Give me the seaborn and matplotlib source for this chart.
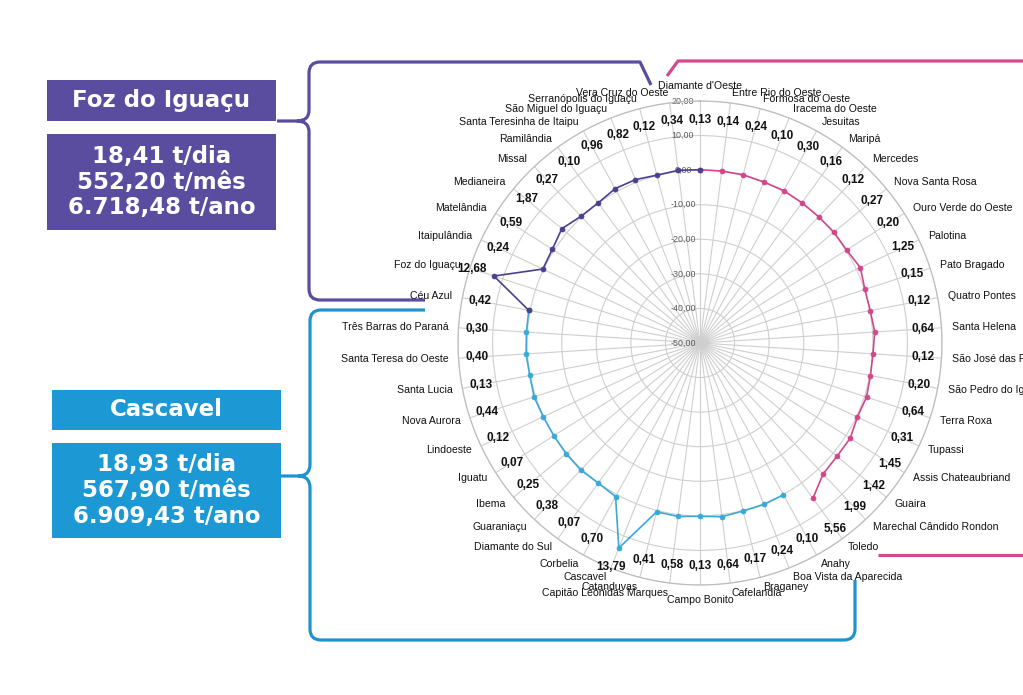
import matplotlib
matplotlib.use("Agg")
import numpy as np
import pandas as pd
import seaborn as sns
import matplotlib.pyplot as plt
from matplotlib.path import Path
from matplotlib.patches import PathPatch, Rectangle

# ---------------- data ----------------
cidades_toledo = ["Diamante d'Oeste", "Entre Rio do Oeste", "Formosa do Oeste", "Iracema do Oeste",
                  "Jesuitas", "Maripá", "Mercedes", "Nova Santa Rosa", "Ouro Verde do Oeste",
                  "Palotina", "Pato Bragado", "Quatro Pontes", "Santa Helena",
                  "São José das Palmeiras", "São Pedro do Iguaçu", "Terra Roxa", "Tupassi",
                  "Assis Chateaubriand", "Guaira", "Marechal Cândido Rondon", "Toledo"]
valores_toledo = [0.13, 0.14, 0.24, 0.10, 0.30, 0.16, 0.12, 0.27, 0.20, 1.25, 0.15, 0.12,
                  0.64, 0.12, 0.20, 0.64, 0.31, 1.45, 1.42, 1.99, 5.56]

cidades_cascavel = ["Anahy", "Boa Vista da Aparecida", "Braganey", "Cafelandia", "Campo Bonito",
                    "Capitão Leônidas Marques", "Catanduvas", "Cascavel", "Corbelia",
                    "Diamante do Sul", "Guaraniaçu", "Ibema", "Iguatu", "Lindoeste",
                    "Nova Aurora", "Santa Lucia", "Santa Teresa do Oeste", "Três Barras do Paraná"]
valores_cascavel = [0.10, 0.24, 0.17, 0.64, 0.13, 0.58, 0.41, 13.79, 0.70, 0.07, 0.38, 0.25,
                    0.07, 0.12, 0.44, 0.13, 0.40, 0.30]

cidades_foz = ["Céu Azul", "Foz do Iguaçu", "Itaipulândia", "Matelândia", "Medianeira", "Missal",
               "Ramilândia", "Santa Teresinha de Itaipu", "São Miguel do Iguaçu",
               "Serranópolis do Iguaçu", "Vera Cruz do Oeste"]
valores_foz = [0.42, 12.68, 0.24, 0.59, 1.87, 0.27, 0.10, 0.96, 0.82, 0.12, 0.34]

radial_ticks = [-50, -40, -30, -20, -10, 0, 10, 20]

foz_totais = "18,41 t/dia\n552,20 t/mês\n6.718,48 t/ano"
cascavel_totais = "18,93 t/dia\n567,90 t/mês\n6.909,43 t/ano"

# ---------------- styling ----------------
sns.set_theme(style="white")
plt.rcParams["font.family"] = ["Liberation Sans", "DejaVu Sans"]

C_PURPLE_LINE = "#4B3F8E"
C_PINK_LINE = "#D2478B"
C_BLUE_LINE = "#3AA8D8"
C_PURPLE_BOX = "#5A4C9F"
C_BLUE_BOX = "#1C99D5"
C_PINK_BR = "#D6488D"
C_BLUE_BR = "#1E93CC"

cidades = cidades_toledo + cidades_cascavel + cidades_foz
valores = valores_toledo + valores_cascavel + valores_foz
n = len(cidades)
step = 2 * np.pi / n
theta_all = np.arange(n) * step

i_cas0 = len(cidades_toledo)
i_foz0 = i_cas0 + len(cidades_cascavel)

df = pd.DataFrame({"cidade": cidades, "valor": valores, "theta": theta_all})

W, H = 1023, 695
fig = plt.figure(figsize=(W / 100, H / 100), dpi=100)

# overlay axes for boxes / brackets (pixel coordinates)
ov = fig.add_axes([0, 0, 1, 1], zorder=0)
ov.set_xlim(0, W)
ov.set_ylim(H, 0)
ov.axis("off")

# polar axes: centre (700,343), outer radius 242 px
cx, cy, R = 700, 343, 242
ax = fig.add_axes([(cx - R) / W, 1 - (cy + R) / H, 2 * R / W, 2 * R / H],
                  projection="polar", zorder=2)
ax.set_facecolor("none")
ax.set_theta_zero_location("N")
ax.set_theta_direction(-1)
ax.set_ylim(-50, 20)
ax.set_yticks(radial_ticks[1:])
ax.set_yticklabels([])
ax.set_xticks(theta_all)
ax.set_xticklabels([])
ax.grid(True, color="#CFCFCF", linewidth=0.8)
ax.spines["polar"].set_color("#BDBDBD")
ax.spines["polar"].set_linewidth(0.9)

# radial tick labels
for v in radial_ticks:
    ax.annotate(f"{v:.2f}".replace(".", ","), xy=(0, v), xytext=(-17, 0),
                textcoords="offset pixels", ha="center", va="center",
                fontsize=6.4, color="#5A5A5A", zorder=1)

# series (each continues to the first point of the following group)
seg_blue = df.iloc[i_cas0:i_foz0 + 1]
seg_pink = df.iloc[0:i_cas0]
seg_purple = pd.concat([df.iloc[i_foz0:], df.iloc[[0]].assign(theta=2 * np.pi)])

for seg, col in [(seg_blue, C_BLUE_LINE), (seg_pink, C_PINK_LINE), (seg_purple, C_PURPLE_LINE)]:
    sns.lineplot(data=seg, x="theta", y="valor", ax=ax, sort=False, color=col,
                 linewidth=1.2, marker="o", markersize=3.6, markeredgecolor=col,
                 markeredgewidth=0.5, legend=False, zorder=3)
ax.set_xlabel("")
ax.set_ylabel("")

# value labels and city names
for th, name, v in zip(theta_all, cidades, valores):
    s = np.sin(th)
    r_lab = 14.5 + 0.38 * v
    ax.text(th, r_lab, f"{v:.2f}".replace(".", ","), ha="center", va="center",
            fontsize=8.5, fontweight="bold", color="#111111", zorder=4, clip_on=False)
    if s > 0.02:
        ha, va = "left", "center"
    elif s < -0.02:
        ha, va = "right", "center"
    else:
        ha = "center"
        va = "bottom" if np.cos(th) > 0 else "top"
    ax.text(th, 22.9, name, ha=ha, va=va, fontsize=7.6, color="#111111",
            zorder=4, clip_on=False)

# ---------------- boxes ----------------
def box(x0, y0, x1, y1, color, text, fs=16.5, ls=1.16):
    ov.add_patch(Rectangle((x0, y0), x1 - x0, y1 - y0, facecolor=color, edgecolor="none"))
    ov.text((x0 + x1) / 2, (y0 + y1) / 2, text, ha="center", va="center", color="white",
            fontsize=fs, fontweight="bold", family="DejaVu Sans", linespacing=ls,
            multialignment="center")

box(47, 80, 276, 121, C_PURPLE_BOX, "Foz do Iguaçu")
box(47, 134, 276, 230, C_PURPLE_BOX, foz_totais)
box(52, 390, 281, 430, C_BLUE_BOX, "Cascavel")
box(52, 443, 281, 538, C_BLUE_BOX, cascavel_totais)

# ---------------- brackets ----------------
M, L, C = Path.MOVETO, Path.LINETO, Path.CURVE3

def bracket(verts, codes, color, lw=2.3):
    ov.add_patch(PathPatch(Path(verts, codes), facecolor="none", edgecolor=color,
                           linewidth=lw, capstyle="butt", joinstyle="round"))

# purple (Foz)
bracket([(651, 85), (640, 62), (320, 62), (309, 62), (309, 73), (309, 110), (309, 121),
         (297, 121), (277, 121),
         (297, 121), (309, 121), (309, 132), (309, 289), (309, 300), (320, 300), (425, 300)],
        [M, L, L, C, C, L, C, C, L,
         M, C, C, L, C, C, L], C_PURPLE_BOX)

# pink (Toledo)
bracket([(667, 76), (678, 61), (W, 61)], [M, L, L], C_PINK_BR)
bracket([(878, 555), (W, 555)], [M, L], C_PINK_BR)

# blue (Cascavel)
bracket([(425, 310), (321, 310), (310, 310), (310, 321), (310, 464), (310, 476),
         (298, 476), (281, 476),
         (298, 476), (310, 476), (310, 488), (310, 629), (310, 640), (321, 640),
         (844, 640), (855, 640), (855, 629), (855, 580)],
        [M, L, C, C, L, C, C, L,
         M, C, C, L, C, C, L, C, C, L], C_BLUE_BR)

fig.savefig("out.png", dpi=100)
